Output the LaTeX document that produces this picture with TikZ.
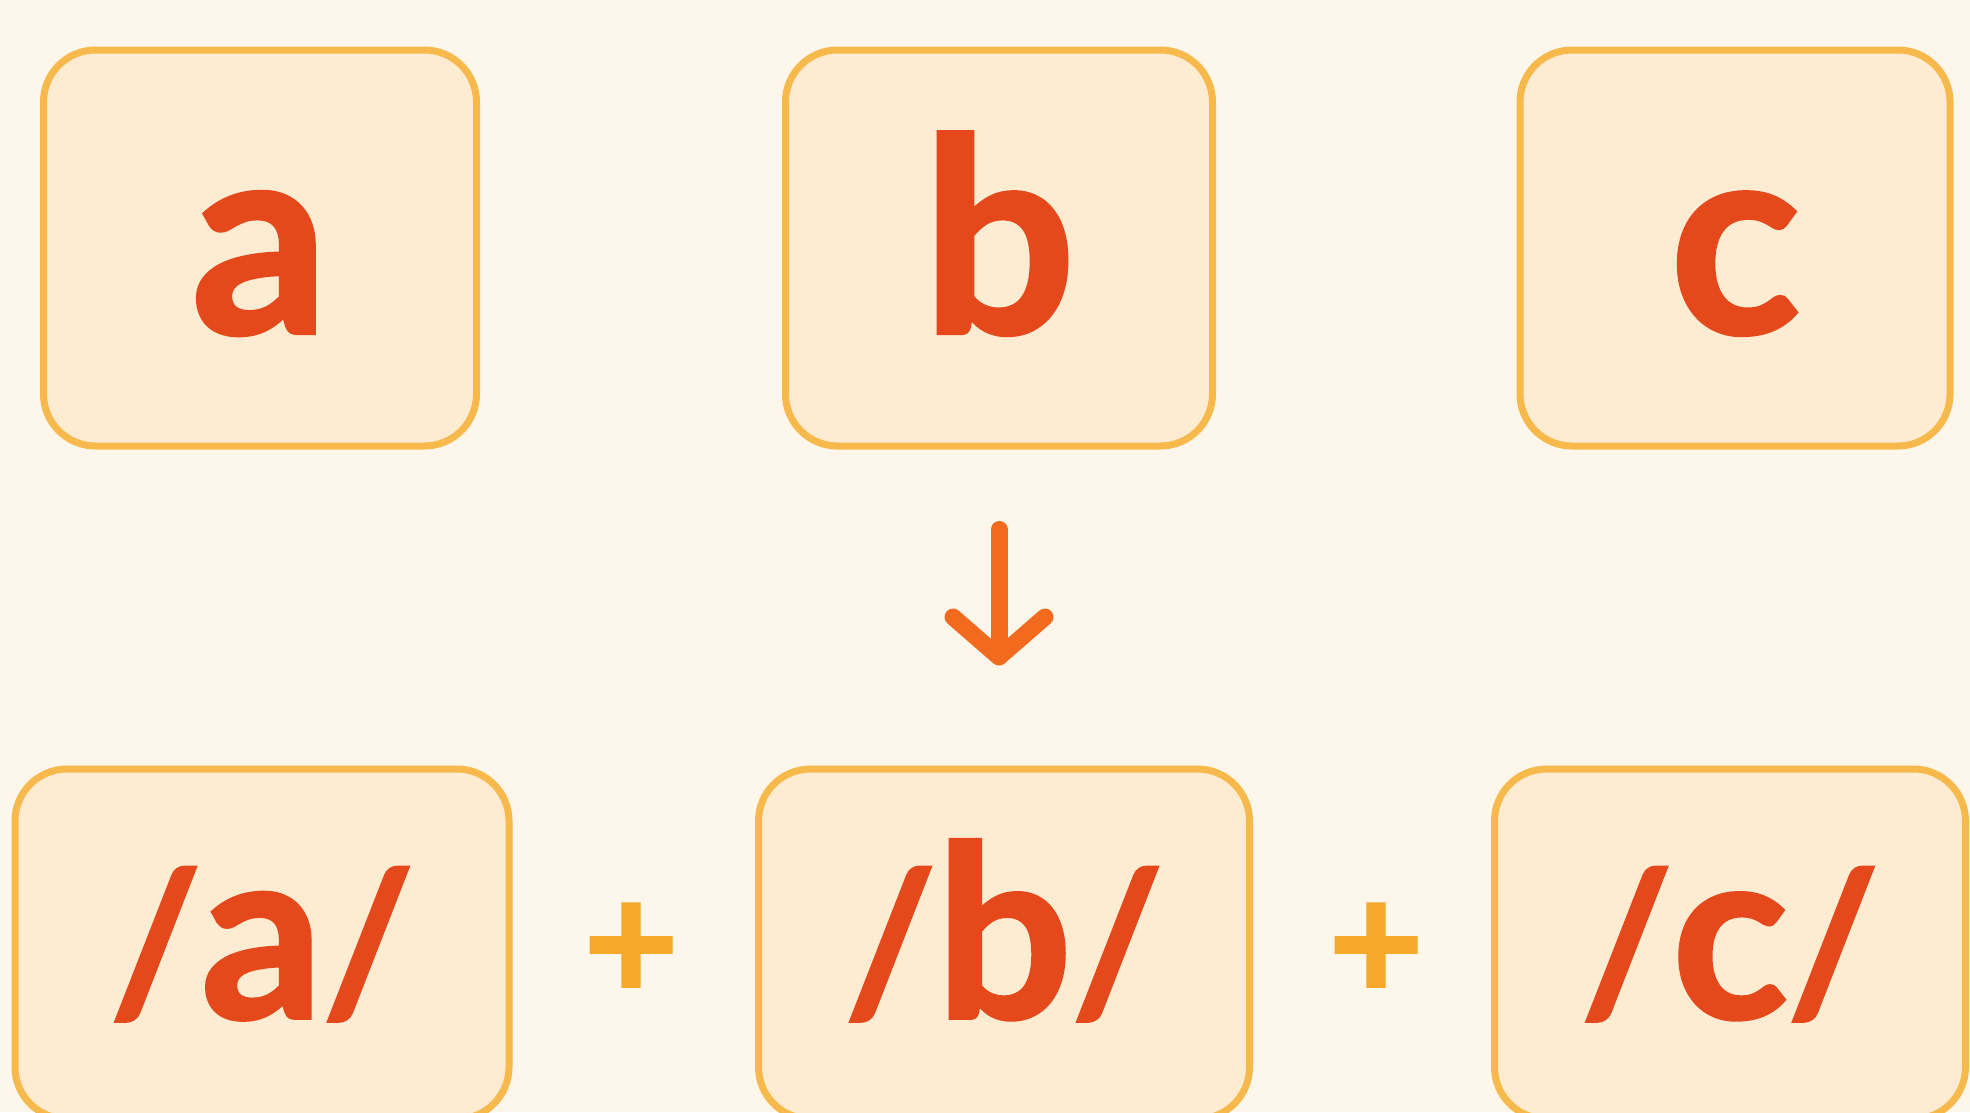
\documentclass[tikz,border=0pt]{standalone}
\usepackage{fontspec}
\setmainfont{Lato}[BoldFeatures={FakeBold=1.6}]
\usetikzlibrary{arrows.meta}
\definecolor{bgcol}{HTML}{FDF6EA}
\definecolor{boxfill}{HTML}{FDEBD2}
\definecolor{boxline}{HTML}{F7B94C}
\definecolor{lettercol}{HTML}{E4481B}
\definecolor{arrowcol}{HTML}{F26A1E}
\definecolor{pluscol}{HTML}{F6A82A}
\newcommand{\slsh}{{\fontsize{195}{200}\selectfont\raisebox{6pt}{/}}}
\tikzset{
  letterbox/.style={draw=boxline, line width=7pt, fill=boxfill, rounded corners=52pt,
    text=lettercol, inner sep=0pt, font=\fontsize{270}{280}\selectfont\bfseries,
    text height=170pt, text depth=0pt},
  topbox/.style={letterbox, minimum height=396pt},
  botbox/.style={letterbox, minimum height=350pt, font=\fontsize{240}{250}\selectfont\bfseries,
    text height=148pt},
  plussign/.style={text=pluscol, inner sep=0pt, font=\fontsize{165}{170}\selectfont\bfseries},
  flowarrow/.style={draw=arrowcol, line width=17pt, line cap=round,
    -{Straight Barb[length=40pt,width=92pt,round]}}
}
\begin{document}
\begin{tikzpicture}[x=1pt,y=-1pt]
\fill[bgcol] (0,0) rectangle (1970,1112);
\useasboundingbox (0,0) rectangle (1970,1112);
\clip (0,0) rectangle (1970,1112);
\node[topbox, minimum width=433pt] (a) at (260,248) {a};
\node[topbox, minimum width=427pt] (b) at (999,248) {b};
\node[topbox, minimum width=430pt] (c) at (1735,248) {c};
\node[botbox, minimum width=494pt] (pa) at (262,944) {\slsh a\slsh};
\node[botbox, minimum width=491pt] (pb) at (1004,944) {\slsh b\slsh};
\node[botbox, minimum width=471pt] (pc) at (1730,944) {\slsh c\slsh};
\node[plussign] (p1) at (631,952) {+};
\node[plussign] (p2) at (1376,952) {+};
\draw[flowarrow, shorten <=80pt, shorten >=100pt] (b.south) -- (b.south |- pb.north);
\end{tikzpicture}
\end{document}
